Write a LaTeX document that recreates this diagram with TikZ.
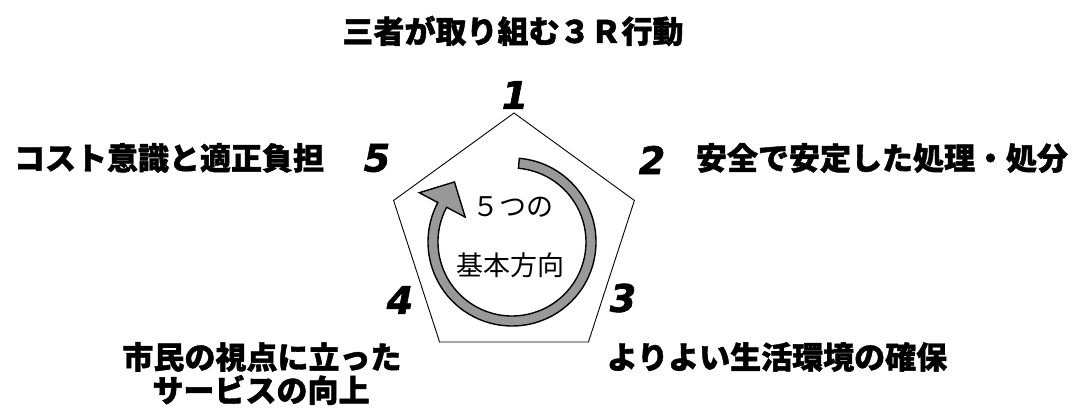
\documentclass[tikz,border=0pt]{standalone}
\usepackage{fontspec}
\newfontfamily\jp{Noto Sans CJK JP}[BoldFeatures={FakeBold=1.3}]
\newfontfamily\numfont{DejaVu Sans}[BoldItalicFeatures={FakeBold=1.6}]
\usetikzlibrary{calc}
\definecolor{ringgray}{RGB}{153,153,153}
\tikzset{
  lbl/.style={inner sep=0pt, font=\jp\bfseries\fontsize{31}{35}\selectfont},
  num/.style={inner sep=0pt, font=\numfont\bfseries\itshape\fontsize{38}{42}\selectfont},
  inner/.style={inner sep=0pt, font=\jp\fontsize{27}{31}\selectfont},
  penta/.style={draw=black, line width=0.9pt},
  ring/.style={draw=black, line width=1.4pt, fill=ringgray, line join=miter}
}
\begin{document}
\begin{tikzpicture}[x=1pt,y=1pt]
\useasboundingbox (0,0) rectangle (1072,410);
% pentagon
\coordinate (P) at (514,170.4);
\coordinate (v1) at ($(P)+(90:126.6)$);
\coordinate (v2) at ($(P)+(18:126.6)$);
\coordinate (v3) at ($(P)+(-54:126.6)$);
\coordinate (v4) at ($(P)+(-126:126.6)$);
\coordinate (v5) at ($(P)+(162:126.6)$);
\draw[penta] (v1) -- (v2) -- (v3) -- (v4) -- (v5) -- cycle;
% circular arrow
\coordinate (C) at (512,168);
\draw[ring] ($(C)+(85:84)$) arc[start angle=85, end angle=-208, radius=84]
  -- ($(C)+(152:105)$)
  -- ($(C)+(152:79)+(62:26)$)
  -- ($(C)+(152:53)$)
  -- ($(C)+(152:74)$) arc[start angle=-208, end angle=85, radius=74]
  -- cycle;
\node[inner] (t1) at (513,203) {５つの};
\node[inner] (t2) at (510,145) {基本方向};
% title
\node[lbl] (title) at (513,379) {三者が取り組む３Ｒ行動};
% numbers
\node[num] (n1) at (515,315) {1};
\node[num] (n2) at (652,250) {2};
\node[num] (n3) at (623,112) {3};
\node[num] (n4) at (400,110) {4};
\node[num] (n5) at (377,252) {5};
% labels
\node[lbl] (l5) at (169,252) {コスト意識と適正負担};
\node[lbl] (l2) at (882,252) {安全で安定した処理・処分};
\node[lbl] (l3) at (777,53) {よりよい生活環境の確保};
\node[lbl] (l4a) at (262,53) {市民の視点に立った};
\node[lbl] (l4b) at (261,20) {サービスの向上};
\end{tikzpicture}
\end{document}
